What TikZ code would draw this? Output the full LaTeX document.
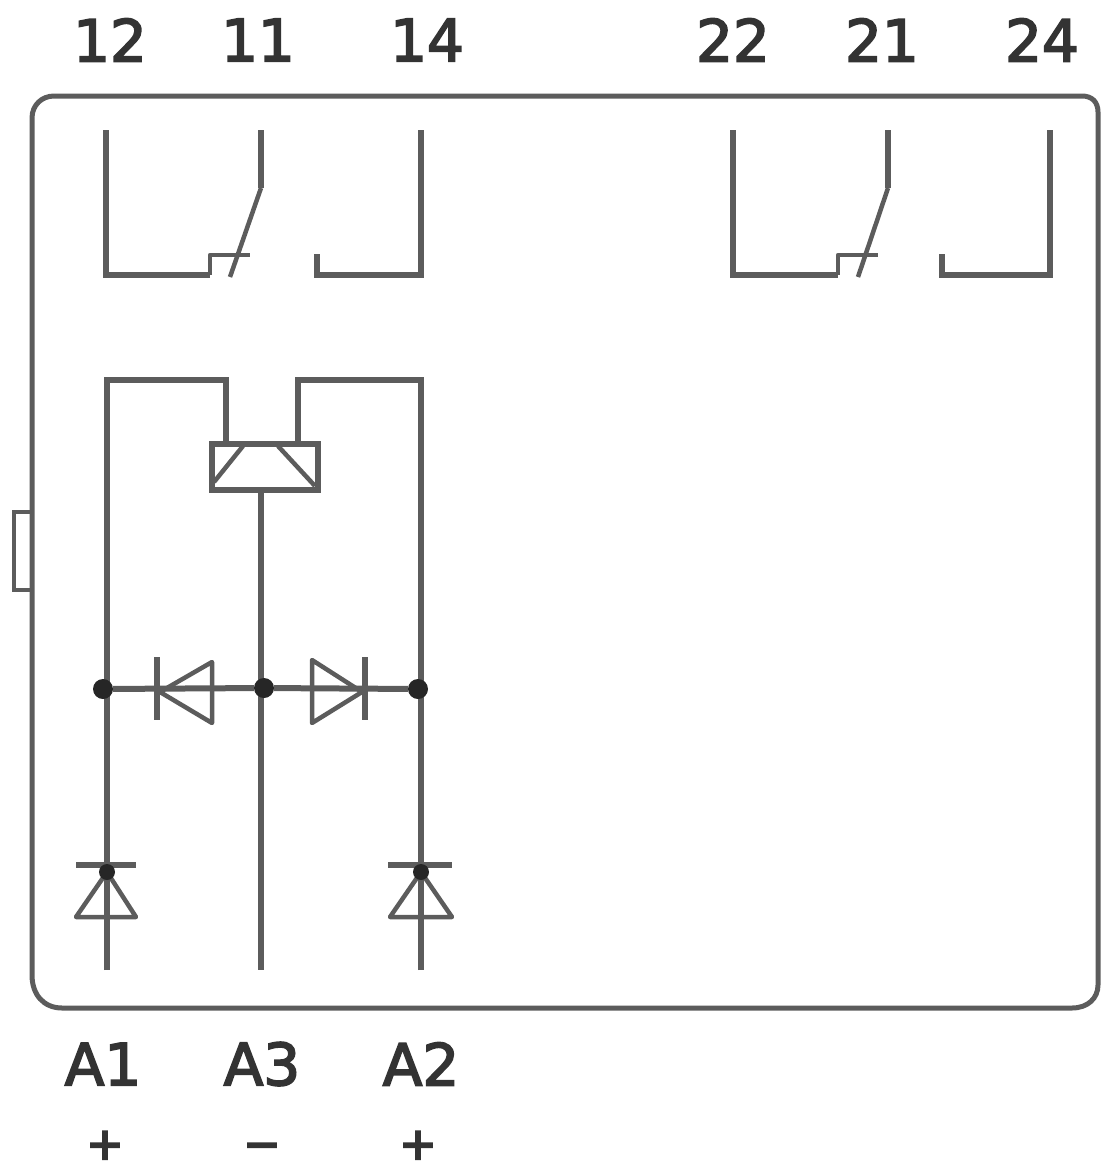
\documentclass[tikz,border=0pt]{standalone}
\usepackage{fontspec}
\setmainfont{DejaVu Sans}
\definecolor{wire}{gray}{0.36}
\definecolor{ink}{gray}{0.2}
\tikzset{
  x=1pt,y=-1pt,
  wire/.style={draw=wire,line width=6pt,line join=miter},
  thin wire/.style={draw=wire,line width=4.5pt,line join=round},
  frame/.style={draw=wire,line width=5pt},
  junction/.style={circle,fill=black!85,inner sep=0pt,minimum size=20pt},
  small dot/.style={circle,fill=black!85,inner sep=0pt,minimum size=16pt},
  term/.style={text=ink,font=\fontsize{58}{62}\selectfont\addfontfeature{FakeBold=3},inner sep=0pt,anchor=center},
  sign/.style={text=ink,font=\fontsize{44}{48}\selectfont\addfontfeature{FakeBold=5},inner sep=0pt,anchor=base}
}
\begin{document}
\begin{tikzpicture}
\useasboundingbox (0,0) rectangle (1112,1168);
% housing
\draw[frame] (54,96) -- (1082,96) .. controls (1092,96) and (1098,102) .. (1098,112) -- (1098,985)
  .. controls (1098,998) and (1088,1008) .. (1072,1008) -- (62,1008)
  .. controls (44,1008) and (32,995) .. (32,975)
  -- (32,118) .. controls (32,105) and (42,96) .. (54,96) -- cycle;
\draw[draw=wire,line width=4pt] (32,512) -- (14,512) -- (14,590) -- (32,590);
% terminal labels
\node[term] (t12) at (110,40) {12};
\node[term] (t11) at (258,40) {11};
\node[term] (t14) at (427,40) {14};
\node[term] (t22) at (733,40) {22};
\node[term] (t21) at (882,40) {21};
\node[term] (t24) at (1042,40) {24};
\node[term] (a1) at (103,1064) {A1};
\node[term] (a3) at (262,1064) {A3};
\node[term] (a2) at (421,1064) {A2};
\node[sign] (s1) at (105,1159) {+};
\node[sign] (s2) at (262,1159) {−};
\node[sign] (s3) at (418,1159) {+};
% contact 1
\coordinate (c1a) at (106,130);
\coordinate (c1b) at (106,275);
\coordinate (c1c) at (210,275);
\coordinate (c1d) at (210,255);
\coordinate (c1e) at (250,255);
\coordinate (c1s) at (230,277);
\coordinate (c1k) at (261,188);
\coordinate (c1t) at (261,130);
\coordinate (c1m) at (317,254);
\coordinate (c1n) at (317,275);
\coordinate (c1o) at (421,275);
\coordinate (c1q) at (421,130);
\draw[wire] (c1a) -- (c1b) -- (c1c);
\draw[thin wire] (c1c) -- (c1d) -- (c1e);
\draw[thin wire] (c1s) -- (c1k);
\draw[wire] (c1k) -- (c1t);
\draw[wire] (c1m) -- (c1n) -- (c1o) -- (c1q);
% contact 2
\coordinate (c2a) at (733,130);
\coordinate (c2b) at (733,275);
\coordinate (c2c) at (838,275);
\coordinate (c2d) at (838,255);
\coordinate (c2e) at (878,255);
\coordinate (c2s) at (858,277);
\coordinate (c2k) at (888,188);
\coordinate (c2t) at (888,130);
\coordinate (c2m) at (942,254);
\coordinate (c2n) at (942,275);
\coordinate (c2o) at (1050,275);
\coordinate (c2q) at (1050,130);
\draw[wire] (c2a) -- (c2b) -- (c2c);
\draw[thin wire] (c2c) -- (c2d) -- (c2e);
\draw[thin wire] (c2s) -- (c2k);
\draw[wire] (c2k) -- (c2t);
\draw[wire] (c2m) -- (c2n) -- (c2o) -- (c2q);
% coil
\node[draw=wire,line width=6pt,fill=white,minimum width=106pt,minimum height=46pt,inner sep=0pt,outer sep=0pt] (coil) at (265,467) {};
\coordinate (lb) at (107,970);
\coordinate (lt) at (107,380);
\coordinate (lc) at (226,380);
\coordinate (ld) at (226,444);
\coordinate (rb) at (421,970);
\coordinate (rt) at (421,380);
\coordinate (rc) at (298,380);
\coordinate (rd) at (298,444);
\coordinate (mt) at (261,490);
\coordinate (mb) at (261,970);
\draw[wire] (lb) -- (lt) -- (lc) -- (ld);
\draw[wire] (rb) -- (rt) -- (rc) -- (rd);
\draw[wire] (mt) -- (mb);
\coordinate (ci1) at (243,446);
\coordinate (ci2) at (214,482);
\coordinate (ci3) at (278,446);
\coordinate (ci4) at (315,486);
\draw[thin wire] (ci1) -- (ci2);
\draw[thin wire] (ci3) -- (ci4);
% junctions and horizontal bus
\node[junction] (j1) at (103,689) {};
\node[junction] (j2) at (264,688) {};
\node[junction] (j3) at (418,689) {};
\draw[wire] (j1) -- (j2) -- (j3);
% left horizontal diode
\coordinate (h1a) at (157,657);
\coordinate (h1b) at (157,720);
\coordinate (h1p) at (160,692);
\coordinate (h1c) at (212,662);
\coordinate (h1d) at (212,723);
\draw[wire] (h1a) -- (h1b);
\draw[thin wire] (h1p) -- (h1c) -- (h1d) -- cycle;
% right horizontal diode
\coordinate (h2a) at (365,657);
\coordinate (h2b) at (365,720);
\coordinate (h2p) at (362,692);
\coordinate (h2c) at (312,660);
\coordinate (h2d) at (312,723);
\draw[wire] (h2a) -- (h2b);
\draw[thin wire] (h2p) -- (h2c) -- (h2d) -- cycle;
% left lower diode
\coordinate (v1a) at (76,865);
\coordinate (v1b) at (136,865);
\coordinate (v1c) at (76,917);
\coordinate (v1d) at (136,917);
\coordinate (v1q) at (107,872);
\draw[wire] (v1a) -- (v1b);
\draw[thin wire] (v1q) -- (v1c) -- (v1d) -- cycle;
\node[small dot] (v1p) at (v1q) {};
% right lower diode
\coordinate (v2a) at (388,865);
\coordinate (v2b) at (452,865);
\coordinate (v2c) at (390,917);
\coordinate (v2d) at (452,917);
\coordinate (v2q) at (421,872);
\draw[wire] (v2a) -- (v2b);
\draw[thin wire] (v2q) -- (v2c) -- (v2d) -- cycle;
\node[small dot] (v2p) at (v2q) {};
\end{tikzpicture}
\end{document}
